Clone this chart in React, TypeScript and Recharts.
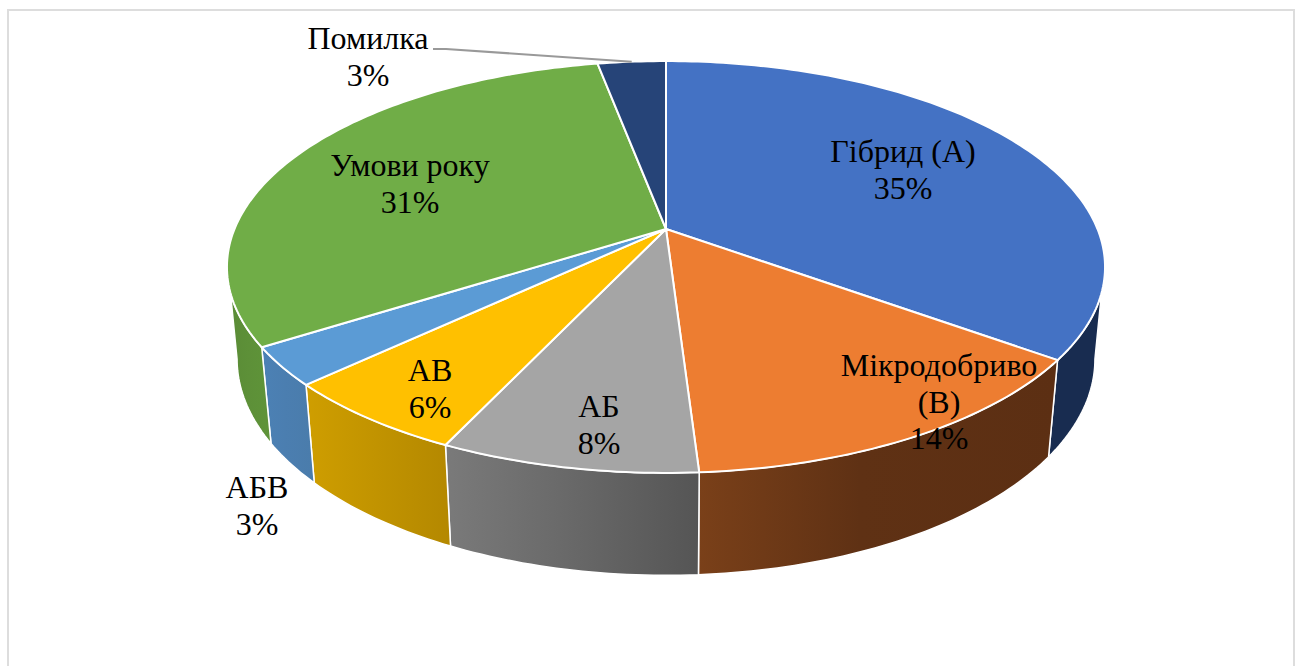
import React from 'react';
import { PieChart, Pie } from 'recharts';

const categories = ['Гібрид (А)', 'Мікродобриво (В)', 'АБ', 'АВ', 'АБВ', 'Умови року', 'Помилка'];
const shares = [35, 14, 8, 6, 3, 31, 3];
const sliceColors = ['#4472C4', '#ED7D31', '#A5A5A5', '#FFC000', '#5B9BD5', '#70AD47', '#264478'];
// left, middle and right shade of the rim under each slice
const rimColors = [
  ['#182C50', '#182C50', '#182C50'],
  ['#7A4019', '#5F3114', '#5C2F13'],
  ['#7A7A7A', '#6A6A6A', '#555555'],
  ['#CF9E00', '#C29400', '#B48800'],
  ['#4C81B5', '#4B7EB0', '#4A7CAB'],
  ['#5A8C36', '#5D9038', '#5F9439'],
  ['#182C50', '#182C50', '#182C50'],
];

const data = categories.map((name, i) => ({ name, value: shares[i], fill: sliceColors[i] }));

// Manual label placement, as in the source chart: centre x, first baseline y
const labelSpots: Record<string, { x: number; y: number; lines: string[] }> = {
  'Гібрид (А)': { x: 903, y: 162, lines: ['Гібрид (А)'] },
  'Мікродобриво (В)': { x: 939, y: 376, lines: ['Мікродобриво', '(В)'] },
  'АБ': { x: 599, y: 417, lines: ['АБ'] },
  'АВ': { x: 430, y: 381, lines: ['АВ'] },
  'АБВ': { x: 257, y: 498, lines: ['АБВ'] },
  'Умови року': { x: 410, y: 176, lines: ['Умови року'] },
  'Помилка': { x: 368, y: 49, lines: ['Помилка'] },
};

const CX = 666;
const CY = 229;
const RADIUS = 431.5;
// perspective of the tilted disc
const TILT = 0.461;
const PERSPECTIVE = -0.1845;
// lower disc, derived from the upper one
const FLOOR_SHRINK = 0.977;
const FLOOR_STRETCH = 1.05;
const FLOOR_FRONT = 575;
const TOP_FRONT = 472.6;

const RAD = Math.PI / 180;

// a = clockwise degrees from 12 o'clock
const topPoint = (a: number) => {
  const u = Math.sin(a * RAD);
  const v = -Math.cos(a * RAD);
  const d = 1 + PERSPECTIVE * v;
  return { x: CX + (RADIUS * u) / d, y: CY + (RADIUS * TILT * v) / d };
};

const floorPoint = (a: number) => {
  const p = topPoint(a);
  return {
    x: CX + (p.x - CX) * FLOOR_SHRINK,
    y: FLOOR_FRONT - (TOP_FRONT - p.y) * FLOOR_STRETCH,
  };
};

const arc = (from: number, to: number, fn: (a: number) => { x: number; y: number }) => {
  const steps = Math.max(2, Math.ceil(Math.abs(to - from)));
  const pts = [];
  for (let i = 0; i <= steps; i++) {
    const p = fn(from + ((to - from) * i) / steps);
    pts.push(`${p.x.toFixed(2)} ${p.y.toFixed(2)}`);
  }
  return pts;
};

const TopSlice = (props: any) => {
  const from = 90 - props.startAngle;
  const to = 90 - props.endAngle;
  const d = `M${CX} ${CY} L${arc(from, to, topPoint).join(' L')} Z`;
  return <path d={d} fill={props.fill} stroke="#fff" strokeWidth={2} strokeLinejoin="round" />;
};

// only the front of the rim is visible: top edge and floor edge turn away at slightly different angles
const RimSlice = (props: any) => {
  const from = 90 - props.startAngle;
  const to = 90 - props.endAngle;
  const topA = Math.max(from, 107.7);
  const topB = Math.min(to, 252.3);
  const floorA = Math.max(from, 100.6);
  const floorB = Math.min(to, 259.4);
  if (topA >= topB) return null;
  const idx = categories.indexOf(props.payload?.name ?? props.name);
  const [left, mid, right] = rimColors[idx] ?? ['#777', '#666', '#555'];
  const gid = `rim-${idx}`;
  const d = `M${arc(topA, topB, topPoint).join(' L')} L${arc(floorB, floorA, floorPoint).join(' L')} Z`;
  return (
    <g>
      <defs>
        <linearGradient id={gid} x1="0" y1="0" x2="1" y2="0">
          <stop offset="0%" stopColor={left} />
          <stop offset="45%" stopColor={mid} />
          <stop offset="100%" stopColor={right} />
        </linearGradient>
      </defs>
      <path d={d} fill={`url(#${gid})`} stroke="#fff" strokeWidth={1.5} strokeLinejoin="round" />
    </g>
  );
};

const SliceLabel = (props: any) => {
  const name = props.payload?.name ?? props.name;
  const spot = labelSpots[name];
  if (!spot) return null;
  const lines = [...spot.lines, `${props.value}%`];
  return (
    <text x={spot.x} y={spot.y} textAnchor="middle" fontFamily="'Liberation Serif', serif" fontSize={32} fill="#000">
      {lines.map((line, i) => (
        <tspan key={line} x={spot.x} dy={i === 0 ? 0 : 36.5}>
          {line}
        </tspan>
      ))}
    </text>
  );
};

// Only the small top slice has a leader line
const LeaderLine = (props: any) => {
  const name = props.payload?.name ?? props.name;
  if (name !== 'Помилка') return <g />;
  const end = topPoint(90 - props.midAngle);
  return <path d={`M433 49 L446 49 L${end.x} ${end.y}`} fill="none" stroke="#999999" strokeWidth={2} />;
};

export default function App() {
  return (
    <div style={{ position: 'absolute', left: 0, top: 0, width: 1299, height: 666, overflow: 'hidden', background: '#fff' }}>
      <div
        style={{
          position: 'absolute',
          left: 7,
          top: 9,
          width: 1288,
          height: 720,
          boxSizing: 'border-box',
          border: '2px solid #DDDDDD',
        }}
      />
      <div style={{ position: 'absolute', left: 0, top: 0 }}>
        <PieChart width={1299} height={666} margin={{ top: 0, right: 0, bottom: 0, left: 0 }}>
          <Pie
            data={data}
            dataKey="value"
            nameKey="name"
            cx={CX}
            cy={CY}
            outerRadius={RADIUS}
            startAngle={90}
            endAngle={-270}
            stroke="none"
            shape={RimSlice}
            label={false}
            labelLine={false}
            isAnimationActive={false}
          />
          <Pie
            data={data}
            dataKey="value"
            nameKey="name"
            cx={CX}
            cy={CY}
            outerRadius={RADIUS}
            startAngle={90}
            endAngle={-270}
            shape={TopSlice}
            label={SliceLabel}
            labelLine={LeaderLine}
            isAnimationActive={false}
          />
        </PieChart>
      </div>
    </div>
  );
}
